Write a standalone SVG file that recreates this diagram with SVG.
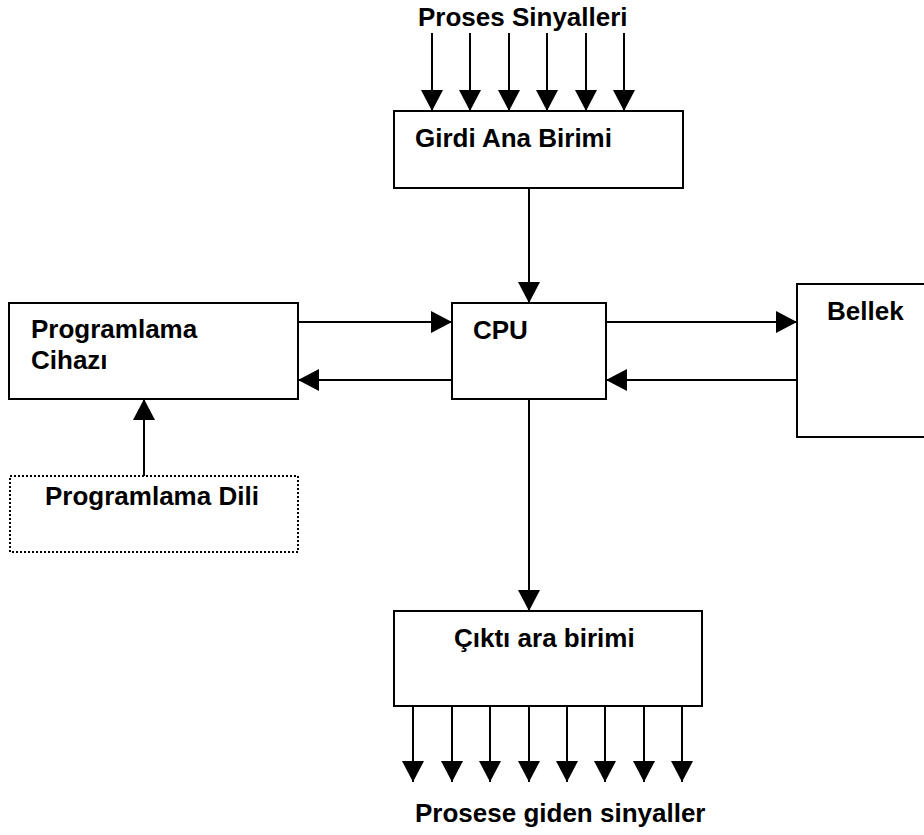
<svg xmlns="http://www.w3.org/2000/svg" width="924" height="835" viewBox="0 0 924 835">
  <style>
    .box { fill: #ffffff; stroke: #000000; stroke-width: 2; }
    .dotted { fill: #ffffff; stroke: #000000; stroke-width: 2; stroke-dasharray: 2 2; }
    .lbl { font-family: "Liberation Sans", Arial, sans-serif; font-weight: bold; font-size: 26px; fill: #000000; }
    .wire { stroke: #000000; stroke-width: 2; fill: none; marker-end: url(#head); }
  </style>
  <defs>
    <marker id="head" markerUnits="userSpaceOnUse" markerWidth="21" markerHeight="22" viewBox="0 0 21 22" refX="21" refY="11" orient="auto">
      <path d="M0,0 L21,11 L0,22 Z" fill="#000000"/>
    </marker>
  </defs>
  <rect width="924" height="835" fill="#ffffff"/>

  <!-- signal captions -->
  <text class="lbl" x="418" y="26">Proses Sinyalleri</text>
  <text class="lbl" x="415" y="822">Prosese giden sinyaller</text>

  <g id="girdi">
    <rect class="box" x="394" y="111" width="289" height="77"/>
    <text class="lbl" x="415" y="147">Girdi Ana Birimi</text>
  </g>

  <g id="programlama-cihazi">
    <rect class="box" x="9" y="303" width="289" height="96"/>
    <text class="lbl" x="31" y="338">Programlama</text>
    <text class="lbl" x="31" y="369">Cihazı</text>
  </g>

  <g id="programlama-dili">
    <rect class="dotted" x="10" y="476" width="288" height="76"/>
    <text class="lbl" x="45" y="505">Programlama Dili</text>
  </g>

  <g id="cpu">
    <rect class="box" x="452" y="303" width="154" height="96"/>
    <text class="lbl" x="473" y="339">CPU</text>
  </g>

  <g id="bellek">
    <rect class="box" x="797" y="284" width="140" height="153"/>
    <text class="lbl" x="827" y="320">Bellek</text>
  </g>

  <g id="cikti">
    <rect class="box" x="394" y="611" width="308" height="95"/>
    <text class="lbl" x="454" y="647">Çıktı ara birimi</text>
  </g>

  <g id="connectors">
    <!-- process inputs -->
    <line class="wire" x1="432" y1="33" x2="432" y2="111"/>
    <line class="wire" x1="470" y1="33" x2="470" y2="111"/>
    <line class="wire" x1="509" y1="33" x2="509" y2="111"/>
    <line class="wire" x1="547" y1="33" x2="547" y2="111"/>
    <line class="wire" x1="586" y1="33" x2="586" y2="111"/>
    <line class="wire" x1="624" y1="33" x2="624" y2="111"/>
    <!-- input unit to CPU -->
    <line class="wire" x1="529" y1="188" x2="529" y2="303"/>
    <!-- programming device <-> CPU -->
    <line class="wire" x1="298" y1="322" x2="452" y2="322"/>
    <line class="wire" x1="452" y1="380" x2="298" y2="380"/>
    <!-- CPU <-> memory -->
    <line class="wire" x1="606" y1="322" x2="797" y2="322"/>
    <line class="wire" x1="797" y1="380" x2="606" y2="380"/>
    <!-- language to device -->
    <line class="wire" x1="144" y1="476" x2="144" y2="399"/>
    <!-- CPU to output unit -->
    <line class="wire" x1="529" y1="399" x2="529" y2="611"/>
    <!-- process outputs -->
    <line class="wire" x1="413" y1="706" x2="413" y2="782"/>
    <line class="wire" x1="452" y1="706" x2="452" y2="782"/>
    <line class="wire" x1="490" y1="706" x2="490" y2="782"/>
    <line class="wire" x1="529" y1="706" x2="529" y2="782"/>
    <line class="wire" x1="567" y1="706" x2="567" y2="782"/>
    <line class="wire" x1="605" y1="706" x2="605" y2="782"/>
    <line class="wire" x1="644" y1="706" x2="644" y2="782"/>
    <line class="wire" x1="682" y1="706" x2="682" y2="782"/>
  </g>
</svg>
